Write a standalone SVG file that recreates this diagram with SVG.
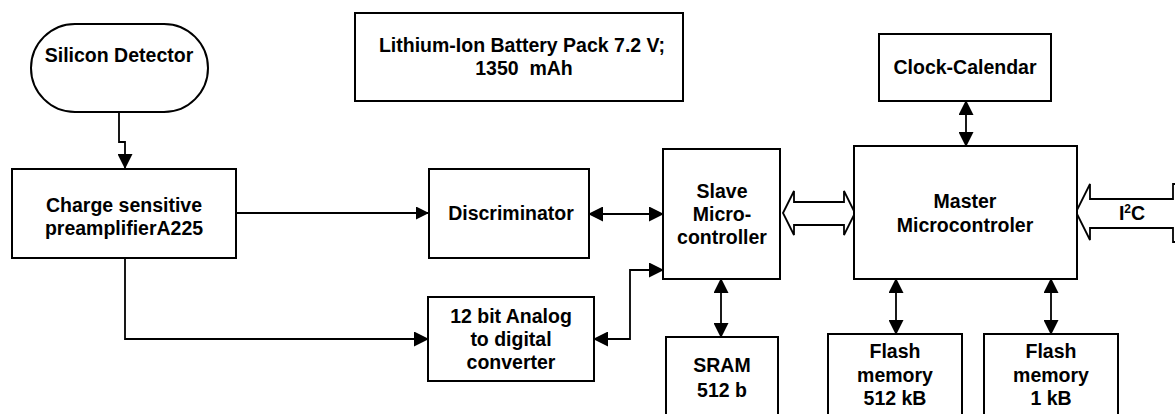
<svg xmlns="http://www.w3.org/2000/svg" width="1175" height="414" viewBox="0 0 1175 414">
<style>
.box{fill:#fff;stroke:#000;stroke-width:2}
.t{font-family:"Liberation Sans",Arial,sans-serif;font-weight:bold;font-size:19.5px;text-anchor:middle;fill:#000}
.ln{fill:none;stroke:#000;stroke-width:1.8}
.hol{fill:#fff;stroke:#000;stroke-width:1.8;stroke-linejoin:miter}
</style>
<defs>
<marker id="ah" markerUnits="userSpaceOnUse" markerWidth="15" markerHeight="15" refX="14" refY="7.5" orient="auto-start-reverse" viewBox="0 0 15 15">
<path d="M0,0 L15,7.5 L0,15 z" fill="#000"/>
</marker>
<marker id="as" markerUnits="userSpaceOnUse" markerWidth="13" markerHeight="13" refX="12" refY="6.5" orient="auto" viewBox="0 0 13 13">
<path d="M0,0 L13,6.5 L0,13 z" fill="#000"/>
</marker>
</defs>
<rect width="1175" height="414" fill="#fff"/>
<g id="connectors">
<path class="ln" d="M119,112 V142 H125 V168" marker-end="url(#ah)"/>
<path class="ln" d="M236,213 H428" marker-end="url(#as)"/>
<path class="ln" d="M589,214 H663" marker-start="url(#ah)" marker-end="url(#ah)"/>
<path class="ln" d="M125,258 V339 H428" marker-end="url(#ah)"/>
<path class="ln" d="M594,339 H630 V270 H663" marker-start="url(#ah)" marker-end="url(#ah)"/>
<path class="ln" d="M721,279 V337" marker-start="url(#ah)" marker-end="url(#ah)"/>
<path class="ln" d="M966,101 V146" marker-start="url(#ah)" marker-end="url(#ah)"/>
<path class="ln" d="M896,279 V334" marker-start="url(#ah)" marker-end="url(#ah)"/>
<path class="ln" d="M1051,279 V334" marker-start="url(#ah)" marker-end="url(#ah)"/>
<path class="hol" d="M783,213 L794,191 V202 H844 V191 L855,213 L844,235 V225 H794 V235 Z"/>
<path class="hol" d="M1176,184 H1173 V199 H1090 V184 L1076,212 L1090,240 V228 H1173 V242 H1176"/>
</g>
<g id="silicon-detector">
<rect class="box" x="31" y="24" width="177" height="88" rx="44" ry="44"/>
<text class="t" x="119" y="62">Silicon Detector</text>
</g>
<g id="battery">
<rect class="box" x="355" y="13" width="328" height="88"/>
<text class="t" x="522" y="52">Lithium-Ion Battery Pack 7.2 V;</text>
<text class="t" x="524" y="75" xml:space="preserve">1350  mAh</text>
</g>
<g id="charge-preamp">
<rect class="box" x="12" y="169" width="224" height="89"/>
<text class="t" x="124" y="212">Charge sensitive</text>
<text class="t" x="124" y="235">preamplifierA225</text>
</g>
<g id="discriminator">
<rect class="box" x="429" y="169" width="160" height="89"/>
<text class="t" x="511" y="220">Discriminator</text>
</g>
<g id="adc">
<rect class="box" x="428" y="297" width="166" height="84"/>
<text class="t" x="511" y="323">12 bit Analog</text>
<text class="t" x="511" y="346">to digital</text>
<text class="t" x="511" y="369">converter</text>
</g>
<g id="slave">
<rect class="box" x="663" y="149" width="117" height="130"/>
<text class="t" x="722" y="198">Slave</text>
<text class="t" x="722" y="221">Micro-</text>
<text class="t" x="722" y="244">controller</text>
</g>
<g id="master">
<rect class="box" x="854" y="146" width="223" height="133"/>
<text class="t" x="965" y="208">Master</text>
<text class="t" x="965" y="232">Microcontroler</text>
</g>
<g id="clock">
<rect class="box" x="879" y="34" width="172" height="67"/>
<text class="t" x="965" y="74">Clock-Calendar</text>
</g>
<g id="sram">
<rect class="box" x="666" y="337" width="112" height="90"/>
<text class="t" x="722" y="372">SRAM</text>
<text class="t" x="722" y="397">512 b</text>
</g>
<g id="flash-512">
<rect class="box" x="828" y="334" width="134" height="90"/>
<text class="t" x="895" y="358">Flash</text>
<text class="t" x="895" y="382">memory</text>
<text class="t" x="895" y="405">512 kB</text>
</g>
<g id="flash-1">
<rect class="box" x="984" y="334" width="134" height="90"/>
<text class="t" x="1051" y="358">Flash</text>
<text class="t" x="1051" y="382">memory</text>
<text class="t" x="1051" y="405">1 kB</text>
</g>
<g id="i2c">
<text class="t" x="1132" y="220">I<tspan font-size="12" dy="-7">2</tspan><tspan dy="7">C</tspan></text>
</g>
</svg>
